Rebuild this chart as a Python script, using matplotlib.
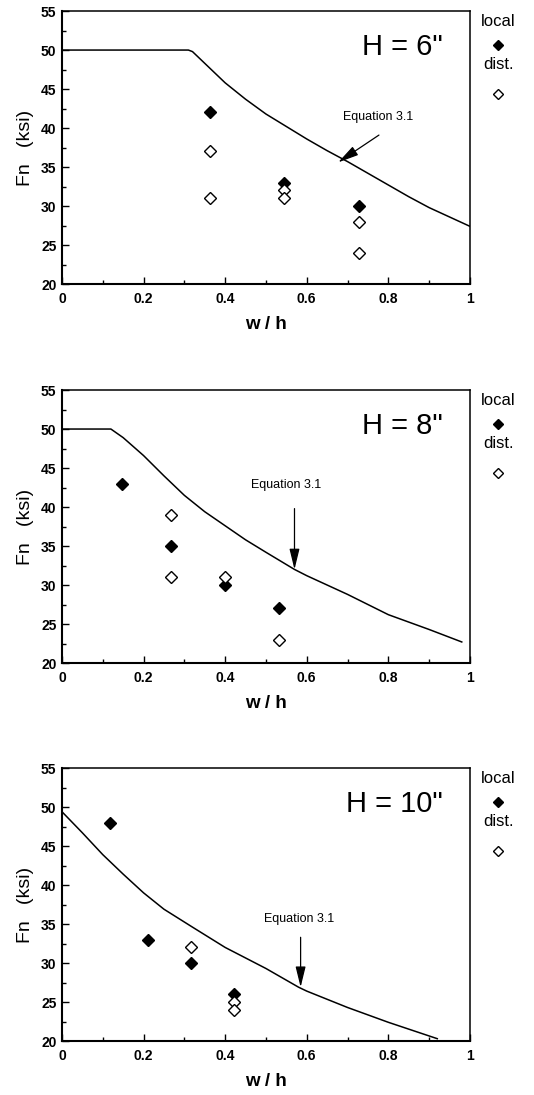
import numpy as np
import matplotlib.pyplot as pl
from matplotlib.ticker import MultipleLocator

pl.rc("font", family=["Liberation Sans", "DejaVu Sans"])

# H = 6"
curve6_x = [0.0, 0.31, 0.32, 0.35, 0.40, 0.45, 0.50, 0.55, 0.60, 0.65, 0.70, 0.75, 0.80, 0.85, 0.90, 0.95, 1.00]
curve6_y = [50.0, 50.0, 49.8, 48.3, 45.8, 43.7, 41.8, 40.2, 38.6, 37.1, 35.7, 34.2, 32.7, 31.2, 29.8, 28.6, 27.4]
local6_x = [0.364, 0.545, 0.727]
local6_y = [42, 33, 30]
dist6_x = [0.364, 0.364, 0.545, 0.545, 0.727, 0.727]
dist6_y = [37, 31, 32, 31, 28, 24]

# H = 8"
curve8_x = [0.0, 0.12, 0.15, 0.20, 0.25, 0.30, 0.35, 0.40, 0.45, 0.50, 0.57, 0.60, 0.70, 0.80, 0.90, 0.98]
curve8_y = [50.0, 50.0, 48.9, 46.6, 44.0, 41.5, 39.4, 37.6, 35.8, 34.2, 32.0, 31.2, 28.8, 26.2, 24.3, 22.7]
local8_x = [0.147, 0.267, 0.40, 0.533]
local8_y = [43, 35, 30, 27]
dist8_x = [0.267, 0.267, 0.40, 0.533]
dist8_y = [39, 31, 31, 23]

# H = 10"
curve10_x = [0.0, 0.05, 0.10, 0.15, 0.20, 0.25, 0.32, 0.40, 0.50, 0.58, 0.60, 0.70, 0.80, 0.92]
curve10_y = [49.4, 46.7, 43.9, 41.4, 39.0, 36.9, 34.6, 32.0, 29.3, 26.9, 26.4, 24.3, 22.4, 20.3]
local10_x = [0.118, 0.21, 0.316, 0.421]
local10_y = [48, 33, 30, 26]
dist10_x = [0.316, 0.421, 0.421]
dist10_y = [32, 25, 24]

x_ticks = [0, 0.2, 0.4, 0.6, 0.8, 1]
x_tick_labels = ["0", "0.2", "0.4", "0.6", "0.8", "1"]
y_ticks = [20, 25, 30, 35, 40, 45, 50, 55]
y_tick_labels = ["20", "25", "30", "35", "40", "45", "50", "55"]

panels = [
    ("H = 6\"", curve6_x, curve6_y, local6_x, local6_y, dist6_x, dist6_y,
     (0.775, 41.4), (0.777, 39.1), (0.677, 35.6)),
    ("H = 8\"", curve8_x, curve8_y, local8_x, local8_y, dist8_x, dist8_y,
     (0.55, 42.8), (0.57, 39.8), (0.57, 32.0)),
    ("H = 10\"", curve10_x, curve10_y, local10_x, local10_y, dist10_x, dist10_y,
     (0.581, 35.6), (0.585, 33.3), (0.585, 26.9)),
]

fig = pl.figure(figsize=(5.34, 10.95), dpi=100)
bottoms = [0.7406, 0.3945, 0.0493]

for (title, cx, cy, lx, ly, dx, dy, txt, a0, a1), b in zip(panels, bottoms):
    ax = fig.add_axes([0.116, b, 0.764, 0.2493])
    ax.plot(cx, cy, color="black", lw=1.1)
    ax.plot(lx, ly, "D", color="black", ms=6)
    ax.plot(dx, dy, "D", mfc="white", mec="black", mew=1.0, ms=6)

    ax.set_xlim(0, 1)
    ax.set_ylim(20, 55)
    ax.set_xticks(x_ticks, x_tick_labels, fontweight="bold", fontsize=10)
    ax.set_yticks(y_ticks, y_tick_labels, fontweight="bold", fontsize=10)
    ax.xaxis.set_minor_locator(MultipleLocator(0.1))
    ax.yaxis.set_minor_locator(MultipleLocator(2.5))
    ax.tick_params(which="both", direction="in", top=False, right=False)
    ax.tick_params(which="major", length=5, width=1)
    ax.tick_params(which="minor", length=3, width=1)
    ax.tick_params(axis="x", pad=6)
    ax.tick_params(axis="y", pad=4)
    for side in ["left", "bottom"]:
        ax.spines[side].set_linewidth(1.5)
    for side in ["right", "top"]:
        ax.spines[side].set_linewidth(1.1)

    ax.set_xlabel("w / h", fontsize=13.5, fontweight="bold", labelpad=7)
    ax.set_ylabel("Fn   (ksi)", fontsize=14, labelpad=5)

    ax.text(0.934, 0.868, title, transform=ax.transAxes, ha="right",
            va="center", fontsize=21)
    ax.annotate("", xy=a1, xytext=a0,
                arrowprops=dict(arrowstyle="-|>,head_length=0.9,head_width=0.22",
                                color="black", lw=0.9, mutation_scale=14,
                                shrinkA=0, shrinkB=0))
    ax.text(txt[0], txt[1], "Equation 3.1", ha="center", va="center",
            fontsize=9)

    ax.text(1.069, 0.963, "local", transform=ax.transAxes, ha="center",
            va="center", fontsize=12)
    ax.plot([1.069], [0.875], "D", color="black", ms=5,
            transform=ax.transAxes, clip_on=False)
    ax.text(1.069, 0.805, "dist.", transform=ax.transAxes, ha="center",
            va="center", fontsize=12)
    ax.plot([1.069], [0.696], "D", mfc="white", mec="black", mew=1.0, ms=5,
            transform=ax.transAxes, clip_on=False)

fig.savefig("out.png", dpi=100)
